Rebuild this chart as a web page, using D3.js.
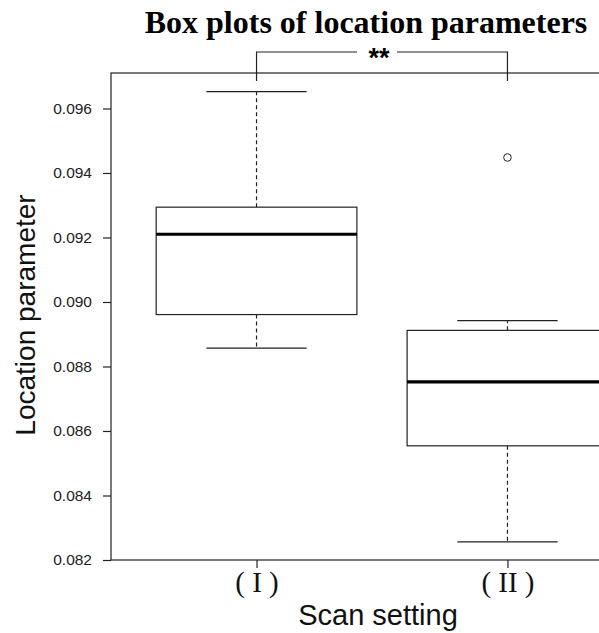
<!DOCTYPE html>
<html>
<head>
<meta charset="utf-8">
<script src="https://cdn.jsdelivr.net/npm/d3@7"></script>
<style>
  body { margin: 0; background: #fff; }
  svg { display: block; }
</style>
</head>
<body>
<div class="chart"></div>
<script>
// box plot values
const categories = ['( I )', '( II )'];
const lowWhisker = [0.08857, 0.08256];
const q1 = [0.08961, 0.08554];
const medians = [0.09210, 0.08752];
const q3 = [0.09294, 0.08912];
const highWhisker = [0.09652, 0.08942];
const outliers = [[], [0.09448]];
const yTicks = [0.082, 0.084, 0.086, 0.088, 0.090, 0.092, 0.094, 0.096];
const sigLabel = '**';

var width = 599, height = 633;
var plot = { left: 111, right: 653, top: 73, bottom: 560 };

var svg = d3.select('.chart')
  .append('svg')
  .attr('width', width)
  .attr('height', height);

// R style: xlim c(0.5, n+0.5) stretched by 4%
var xScale = d3.scaleLinear()
  .domain([0.42, 2.58])
  .range([plot.left, plot.right]);

var yScale = d3.scaleLinear()
  .domain([0.082, 0.0971])
  .range([plot.bottom, plot.top]);

var boxHalf = 0.4, capHalf = 0.2;
var ink = '#222';
var sans = "'Liberation Sans', Arial, sans-serif";
var serif = "'Liberation Serif', 'Times New Roman', serif";

// frame
svg.append('rect')
  .attr('x', plot.left)
  .attr('y', plot.top)
  .attr('width', plot.right - plot.left)
  .attr('height', plot.bottom - plot.top)
  .style('fill', 'none')
  .style('stroke', ink)
  .style('stroke-width', 1.2);

// y axis
var yAxis = svg.append('g')
  .attr('transform', 'translate(' + plot.left + ',0)')
  .call(d3.axisLeft(yScale).tickValues(yTicks).tickFormat(d3.format('.3f')).tickSize(8).tickPadding(11));
yAxis.select('.domain').remove();
yAxis.selectAll('line').style('stroke', ink).style('stroke-width', 1.2);
yAxis.selectAll('text')
  .style('font-family', sans)
  .style('font-size', '15.5px')
  .style('fill', '#222');

// x axis
var xAxis = svg.append('g')
  .attr('transform', 'translate(0,' + plot.bottom + ')')
  .call(d3.axisBottom(xScale).tickValues([1, 2]).tickFormat((d, i) => categories[i]).tickSize(8).tickPadding(3));
xAxis.select('.domain').remove();
xAxis.selectAll('line').style('stroke', ink).style('stroke-width', 1.2);
xAxis.selectAll('text')
  .style('font-family', serif)
  .style('font-size', '29px')
  .style('fill', '#111');

var groups = svg.selectAll('.box')
  .data(categories)
  .enter()
  .append('g')
  .attr('class', 'box');

// whiskers (dashed)
groups.append('line')
  .attr('x1', (d, i) => xScale(i + 1))
  .attr('x2', (d, i) => xScale(i + 1))
  .attr('y1', (d, i) => yScale(q3[i]))
  .attr('y2', (d, i) => yScale(highWhisker[i]))
  .style('stroke', ink).style('stroke-width', 1.2).style('stroke-dasharray', '4,3');
groups.append('line')
  .attr('x1', (d, i) => xScale(i + 1))
  .attr('x2', (d, i) => xScale(i + 1))
  .attr('y1', (d, i) => yScale(q1[i]))
  .attr('y2', (d, i) => yScale(lowWhisker[i]))
  .style('stroke', ink).style('stroke-width', 1.2).style('stroke-dasharray', '4,3');

// caps
[highWhisker, lowWhisker].forEach(arr => {
  groups.append('line')
    .attr('x1', (d, i) => xScale(i + 1 - capHalf))
    .attr('x2', (d, i) => xScale(i + 1 + capHalf))
    .attr('y1', (d, i) => yScale(arr[i]))
    .attr('y2', (d, i) => yScale(arr[i]))
    .style('stroke', ink).style('stroke-width', 1.2);
});

// boxes
groups.append('rect')
  .attr('x', (d, i) => xScale(i + 1 - boxHalf))
  .attr('width', (d, i) => xScale(i + 1 + boxHalf) - xScale(i + 1 - boxHalf))
  .attr('y', (d, i) => yScale(q3[i]))
  .attr('height', (d, i) => yScale(q1[i]) - yScale(q3[i]))
  .style('fill', 'white')
  .style('stroke', ink)
  .style('stroke-width', 1.2);

// medians
groups.append('line')
  .attr('x1', (d, i) => xScale(i + 1 - boxHalf))
  .attr('x2', (d, i) => xScale(i + 1 + boxHalf))
  .attr('y1', (d, i) => yScale(medians[i]))
  .attr('y2', (d, i) => yScale(medians[i]))
  .style('stroke', '#000').style('stroke-width', 3.2);

// outliers
groups.each(function(d, i) {
  d3.select(this).selectAll('.dot')
    .data(outliers[i])
    .enter()
    .append('circle')
    .attr('class', 'dot')
    .attr('cx', xScale(i + 1))
    .attr('cy', v => yScale(v))
    .attr('r', 3.8)
    .style('fill', 'none')
    .style('stroke', ink)
    .style('stroke-width', 1);
});

// significance bracket
var bY = 52, bDrop = 81;
var xa = xScale(1), xb = xScale(2), xm = 377;
svg.append('path')
  .attr('d', `M${xa},${bDrop} V${bY} H${xm - 20}`)
  .style('fill', 'none').style('stroke', ink).style('stroke-width', 1.2);
svg.append('path')
  .attr('d', `M${xm + 20},${bY} H${xb} V${bDrop}`)
  .style('fill', 'none').style('stroke', ink).style('stroke-width', 1.2);
svg.append('text')
  .attr('x', xm + 2)
  .attr('y', bY + 15)
  .style('text-anchor', 'middle')
  .style('font-family', sans)
  .style('font-weight', 'bold')
  .style('font-size', '27px')
  .text(sigLabel);

// title
svg.append('text')
  .attr('x', 366)
  .attr('y', 33)
  .style('text-anchor', 'middle')
  .style('font-family', serif)
  .style('font-weight', 'bold')
  .style('font-size', '32px')
  .text('Box plots of location parameters');

// axis titles
svg.append('text')
  .attr('x', 378)
  .attr('y', 625)
  .style('text-anchor', 'middle')
  .style('font-family', sans)
  .style('font-size', '29px')
  .style('fill', '#111')
  .text('Scan setting');

svg.append('text')
  .attr('transform', 'translate(35,315) rotate(-90)')
  .style('text-anchor', 'middle')
  .style('font-family', sans)
  .style('font-size', '28px')
  .style('fill', '#111')
  .text('Location parameter');
</script>
</body>
</html>
